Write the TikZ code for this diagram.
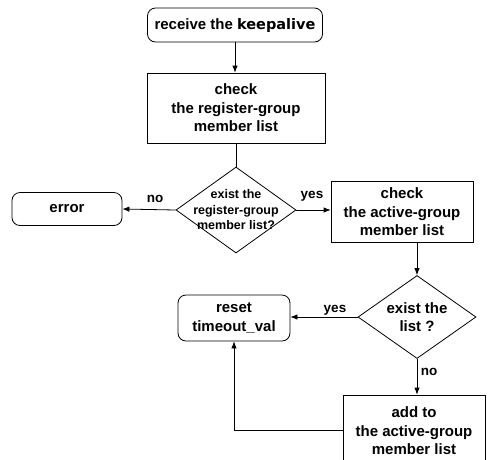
\documentclass[tikz,border=0pt]{standalone}
\usepackage{fontspec}
\newfontfamily\ls{Liberation Sans}
\newfontfamily\dv{DejaVu Sans}
\newcommand\fontA{\ls\bfseries\fontsize{15}{18.5}\selectfont}
\newcommand\fontB{\ls\bfseries\fontsize{12.5}{15.5}\selectfont}
\newcommand\fontC{\ls\bfseries\fontsize{13.5}{16}\selectfont}
\newcommand\kw[1]{{\dv\bfseries\fontsize{14.5}{18.5}\selectfont #1}}
\usetikzlibrary{shapes.geometric,arrows.meta}
\begin{document}
\begin{tikzpicture}[x=1pt,y=-1pt,
  ln/.style={line width=0.8pt},
  box/.style={draw, ln, align=center, inner sep=0pt, font=\fontA},
  term/.style={box, rounded corners=8pt},
  dec/.style={draw, ln, diamond, inner sep=0pt},
  arr/.style={ln, -{Latex[length=7pt,width=5.5pt]}},
  lbl/.style={font=\fontC, inner sep=0pt, anchor=base},
  dtxt/.style={align=center, inner sep=0pt}]
\useasboundingbox (0,0) rectangle (503,459);
\clip (0,0) rectangle (503,459);
% nodes
\node[term, minimum width=175pt, minimum height=34pt] (recv) at (235,25) {receive the \kw{keepalive}};
\node[box, minimum width=178pt, minimum height=70pt] (chk1) at (236,108) {check\\the register-group\\member list};
\node[dec, minimum width=120pt, minimum height=86pt,
  label={[dtxt, font=\fontB]center:exist the\\register-group\\member list?}] (d1) at (236,210) {};
\node[term, minimum width=110pt, minimum height=33pt] (err) at (67,209) {error};
\node[box, minimum width=142pt, minimum height=61pt] (chk2) at (402,212) {check\\the active-group\\member list};
\node[dec, minimum width=118pt, minimum height=83pt,
  label={[dtxt, font=\fontA]center:exist the\\list ?}] (d2) at (417,317) {};
\node[term, minimum width=112pt, minimum height=46pt] (reset) at (234,318) {reset\\timeout\_val};
\node[box, minimum width=142pt, minimum height=72pt] (add) at (414,431) {add to\\the active-group\\member list};
% labels
\node[lbl] (lno1) at (155,202) {no};
\node[lbl] (lyes1) at (312,198) {yes};
\node[lbl] (lyes2) at (335,312) {yes};
\node[lbl] (lno2) at (429,375) {no};
% connectors
\draw[arr] (recv.south) -- (recv.south |- chk1.north);
\draw[ln] (chk1.south) -- (d1.north);
\draw[arr] (d1.west) -- (err.east);
\draw[arr] (d1.east) -- (d1.east -| chk2.west);
\draw[arr] (chk2.south -| d2.north) -- (d2.north);
\draw[arr] (d2.west) -- (d2.west -| reset.east);
\draw[arr] (d2.south) -- (d2.south |- add.north);
\draw[arr] (add.west |- 0,430) -| (reset.south);
\end{tikzpicture}
\end{document}
